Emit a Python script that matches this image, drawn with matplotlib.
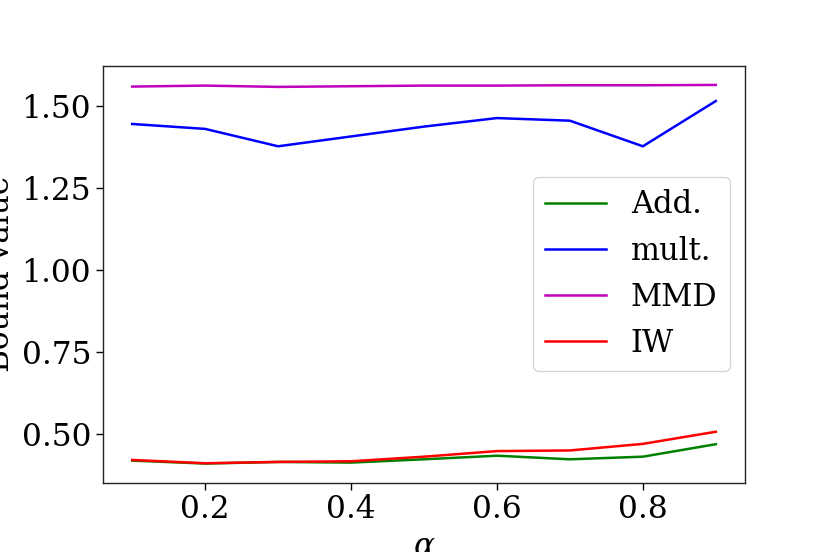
import matplotlib
matplotlib.use("Agg")
import matplotlib.pyplot as plt

alpha = [0.1, 0.2, 0.3, 0.4, 0.5, 0.6, 0.7, 0.8, 0.9]
add_vals = [0.419, 0.410, 0.415, 0.413, 0.423, 0.434, 0.423, 0.431, 0.469]
mult_vals = [1.445, 1.430, 1.377, 1.407, 1.437, 1.463, 1.455, 1.377, 1.515]
mmd_vals = [1.559, 1.562, 1.558, 1.560, 1.562, 1.562, 1.563, 1.563, 1.564]
iw_vals = [0.421, 0.411, 0.415, 0.417, 0.431, 0.448, 0.450, 0.470, 0.507]
yticks = [0.50, 0.75, 1.00, 1.25, 1.50]
xticks = [0.2, 0.4, 0.6, 0.8]

plt.rcParams['font.family'] = ['DejaVu Serif']
plt.rcParams['mathtext.fontset'] = 'dejavuserif'

fs = 22.5
fig = plt.figure(figsize=(8.28, 5.52), dpi=100)
ax = fig.add_axes([103/828, 1-482.5/552, (745-103)/828, (482.5-66)/552])

lw = 1.8
ax.plot(alpha, add_vals, color='green', lw=lw, label='Add.')
ax.plot(alpha, mult_vals, color='blue', lw=lw, label='mult.')
ax.plot(alpha, mmd_vals, color='m', lw=lw, label='MMD')
ax.plot(alpha, iw_vals, color='red', lw=lw, label='IW')

ax.set_yticks(yticks)
ax.set_yticklabels([f"{v:.2f}" for v in yticks])
ax.set_xticks(xticks)
ax.set_xticklabels([f"{v:.1f}" for v in xticks])
ax.tick_params(labelsize=fs, length=5, width=1)
for s in ax.spines.values():
    s.set_linewidth(1.0)
    s.set_color('#222222')

ax.set_xlabel(r'$\alpha$', fontsize=fs)
ax.set_ylabel('Bound value', fontsize=fs)

ax.legend(loc='center right', fontsize=22, handlelength=2.0, borderaxespad=0.5)

fig.savefig('out.png', dpi=100)
